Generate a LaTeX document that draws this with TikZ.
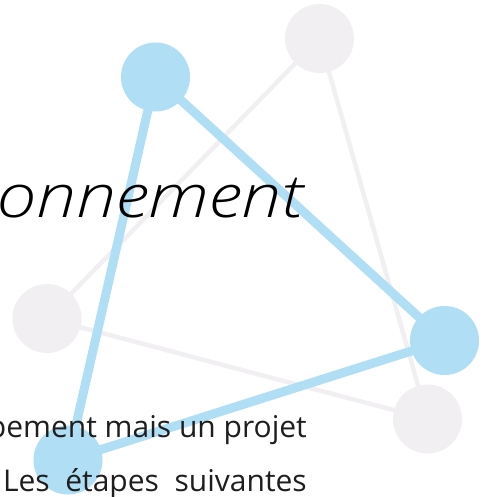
\documentclass[tikz,border=0pt]{standalone}
\usepackage{fontspec}
\setmainfont{Open Sans}
\newfontfamily\headfont{Open Sans}[UprightFont=* Light, ItalicFont=* Light Italic]
\usetikzlibrary{backgrounds}
\definecolor{dotblue}{RGB}{176,222,245}
\definecolor{dotgrey}{RGB}{241,239,242}
\definecolor{bodytext}{RGB}{30,30,30}
\tikzset{
  ball/.style={circle,inner sep=0pt,minimum size=69pt},
  blueball/.style={ball,fill=dotblue},
  greyball/.style={ball,fill=dotgrey},
  blueedge/.style={draw=dotblue,line width=9pt,line join=miter},
  greyedge/.style={draw=dotgrey,line width=4.5pt},
}

\begin{document}
\begin{tikzpicture}[x=1pt,y=-1pt]
\clip (0,0) rectangle (483,497);
\useasboundingbox (0,0) rectangle (483,497);
% grey triangle
\node[greyball] (g1) at (319.5,38.5) {};
\node[greyball] (g2) at (47,318.5) {};
\node[greyball] (g3) at (427.5,419) {};
% blue triangle
\node[blueball] (b1) at (155.5,77) {};
\node[blueball] (b2) at (444.5,340.5) {};
\node[blueball] (b3) at (68,460) {};
\begin{pgfonlayer}{background}
\draw[greyedge] (g1.center) -- (g2.center) -- (g3.center) -- cycle;
\draw[blueedge] (b1.center) -- (b2.center) -- (b3.center) -- cycle;
\end{pgfonlayer}
% text
\node[anchor=base west,inner sep=0pt,font=\headfont\itshape\fontsize{60}{60}\selectfont] (title) at (-3,217.5) {\scalebox{1.19}[1]{onnement}};
\node[anchor=base east,inner sep=0pt,text=bodytext,font=\fontsize{30}{30}\selectfont] (line1) at (307,437.5) {pement mais un projet};
\node[anchor=base east,inner sep=0pt,text=bodytext,font=\fontsize{30}{30}\selectfont] (line2) at (307,491.5) {.\ Les\ \ étapes\ \ suivantes};
\end{tikzpicture}
\end{document}
